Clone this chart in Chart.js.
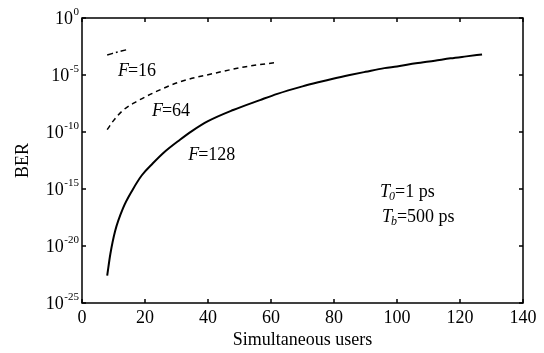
<!DOCTYPE html>
<html>
<head>
<meta charset="utf-8">
<script src="https://cdn.jsdelivr.net/npm/chart.js@4.4.0/dist/chart.umd.min.js"></script>
<style>
  html, body { margin: 0; padding: 0; background: #fff; }
  #wrap { width: 544px; height: 353px; }
</style>
</head>
<body>
<div id="wrap"><canvas id="berChart"></canvas></div>
<script>
// axis ticks
const xTickValues = [0, 20, 40, 60, 80, 100, 120, 140];
const yTickValues = [1, 1e-5, 1e-10, 1e-15, 1e-20, 1e-25];
const yTickExponents = ['0', '-5', '-10', '-15', '-20', '-25'];

// F=16 (dash-dot)
const usersF16 = [8, 11, 14];
const berF16 = [5.6e-4, 1.0e-3, 1.6e-3];

// F=64 (dashed)
const usersF64 = [8, 10, 13, 17.5, 24, 31, 42, 52, 62];
const berF64 = [1.6e-10, 1.0e-9, 7.9e-9, 5.0e-8, 4.0e-7, 2.5e-6, 1.4e-5, 5.4e-5, 1.3e-4];

// F=128 (solid)
const usersF128 = [8, 9, 10.5, 13, 16, 19, 22.5, 26, 31, 35, 40, 48, 56.5, 62, 70, 75, 80, 85, 90, 96, 100, 106, 112, 117, 122, 127];
const berF128 = [2.5e-23, 2.0e-21, 2.0e-19, 2.0e-17, 7.9e-16, 1.6e-14, 1.8e-13, 1.6e-12, 2.0e-11, 1.26e-10, 8.9e-10, 8.5e-9, 6.3e-8, 2.2e-7, 1.0e-6, 2.3e-6, 5.0e-6, 1.0e-5, 1.9e-5, 4.0e-5, 5.6e-5, 1.05e-4, 1.8e-4, 2.9e-4, 4.3e-4, 6.3e-4];

// text labels inside the plot (data coords), parts: [text, style]
const labels = [
    { x: 11.4, y: 2.2e-5, parts: [['F', 'i'], ['=16', 'r']] },
    { x: 22.2, y: 6.9e-9, parts: [['F', 'i'], ['=64', 'r']] },
    { x: 33.7, y: 1.0e-12, parts: [['F', 'i'], ['=128', 'r']] },
    { x: 94.6, y: 5.0e-16, parts: [['T', 'i'], ['0', 'is'], ['=1 ps', 'r']] },
    { x: 95.2, y: 3.2e-18, parts: [['T', 'i'], ['b', 'is'], ['=500 ps', 'r']] }
];

const FONT = '"Liberation Serif", "Times New Roman", serif';

const toPoints = (xs, ys) => xs.map((x, i) => ({ x: x, y: ys[i] }));

const framePlugin = {
    id: 'frame',
    afterDraw(chart) {
        const ctx = chart.ctx;
        const a = chart.chartArea;
        const xs = chart.scales.x;
        const ys = chart.scales.y;
        ctx.save();
        ctx.strokeStyle = '#000';
        ctx.lineWidth = 1.5;
        ctx.strokeRect(a.left, a.top, a.right - a.left, a.bottom - a.top);

        // inward ticks
        const tl = 4;
        ctx.beginPath();
        xTickValues.forEach(v => {
            const px = xs.getPixelForValue(v);
            ctx.moveTo(px, a.bottom); ctx.lineTo(px, a.bottom - tl);
            ctx.moveTo(px, a.top); ctx.lineTo(px, a.top + tl);
        });
        yTickValues.forEach(v => {
            const py = ys.getPixelForValue(v);
            ctx.moveTo(a.left, py); ctx.lineTo(a.left + tl, py);
            ctx.moveTo(a.right, py); ctx.lineTo(a.right - tl, py);
        });
        ctx.stroke();

        // y tick labels 10^n
        ctx.fillStyle = '#000';
        ctx.textBaseline = 'middle';
        yTickValues.forEach((v, i) => {
            const py = ys.getPixelForValue(v);
            ctx.font = '11px ' + FONT;
            const ew = ctx.measureText(yTickExponents[i]).width;
            const ex = a.left - 3 - ew;
            ctx.textAlign = 'left';
            ctx.fillText(yTickExponents[i], ex, py - 6);
            ctx.font = '18px ' + FONT;
            ctx.textAlign = 'right';
            ctx.fillText('10', ex - 0.5, py + 1);
        });

        // annotations
        ctx.textAlign = 'left';
        labels.forEach(l => {
            let px = xs.getPixelForValue(l.x);
            const py = ys.getPixelForValue(l.y);
            l.parts.forEach(([t, s]) => {
                if (s === 'i') ctx.font = 'italic 18px ' + FONT;
                else if (s === 'is') ctx.font = 'italic 12px ' + FONT;
                else ctx.font = '18px ' + FONT;
                ctx.fillText(t, px, s === 'is' ? py + 4 : py);
                px += ctx.measureText(t).width - (s === 'i' ? 1 : 0);
            });
        });
        ctx.restore();
    }
};

new Chart(document.getElementById('berChart'), {
    type: 'line',
    data: {
        datasets: [
            {
                label: 'F=16',
                data: toPoints(usersF16, berF16),
                borderColor: '#000',
                borderWidth: 1.5,
                borderDash: [6, 3, 2, 3],
                pointRadius: 0,
                tension: 0.3
            },
            {
                label: 'F=64',
                data: toPoints(usersF64, berF64),
                borderColor: '#000',
                borderWidth: 1.5,
                borderDash: [5, 4],
                pointRadius: 0,
                cubicInterpolationMode: 'monotone'
            },
            {
                label: 'F=128',
                data: toPoints(usersF128, berF128),
                borderColor: '#000',
                borderWidth: 2,
                pointRadius: 0,
                cubicInterpolationMode: 'monotone'
            }
        ]
    },
    options: {
        responsive: true,
        maintainAspectRatio: false,
        animation: false,
        layout: { padding: { left: 0, right: 21, top: 18, bottom: 0 } },
        plugins: { legend: { display: false }, tooltip: { enabled: false } },
        scales: {
            x: {
                type: 'linear',
                min: 0, max: 140,
                afterBuildTicks: s => { s.ticks = xTickValues.map(v => ({ value: v })); },
                afterFit: s => { s.height = 50; },
                grid: { display: false, drawTicks: false },
                border: { display: false },
                ticks: { color: '#000', padding: 4, maxRotation: 0, font: { family: FONT, size: 18 } },
                title: {
                    display: true,
                    text: 'Simultaneous users',
                    color: '#000',
                    font: { family: FONT, size: 18 },
                    padding: { top: 0, bottom: 2 }
                }
            },
            y: {
                type: 'logarithmic',
                min: 1e-25, max: 1,
                afterBuildTicks: s => { s.ticks = yTickValues.map(v => ({ value: v })); },
                afterFit: s => { s.width = 82; },
                grid: { display: false, drawTicks: false },
                border: { display: false },
                ticks: { display: false },
                title: {
                    display: true,
                    text: 'BER',
                    color: '#000',
                    font: { family: FONT, size: 18 },
                    padding: { top: 12, bottom: 0 }
                }
            }
        }
    },
    plugins: [framePlugin]
});
</script>
</body>
</html>
